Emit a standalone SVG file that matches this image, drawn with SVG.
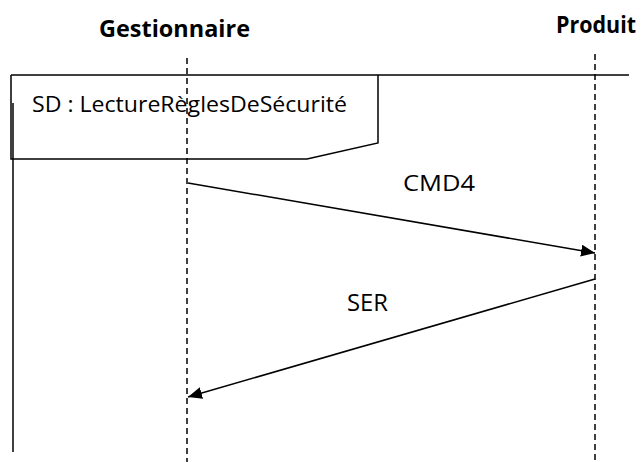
<svg xmlns="http://www.w3.org/2000/svg" width="644" height="462" viewBox="0 0 644 462">
<style>
.t{font-family:"Open Sans","Liberation Sans",sans-serif;fill:#000}
.h{font-family:"Open Sans","Liberation Sans",sans-serif;font-weight:bold;font-size:24px;fill:#000}
.life{stroke:#000;stroke-width:1.5;stroke-dasharray:6,4;fill:none}
.ln{stroke:#000;stroke-width:1.5;fill:none}
</style>
<defs>
<marker id="ah" markerWidth="14" markerHeight="12" refX="14" refY="6" orient="auto" markerUnits="userSpaceOnUse">
<path d="M0,0 L14,6 L0,12 Z" fill="#000"/>
</marker>
</defs>
<g id="frame">
<path class="ln" d="M11,75 H629"/>
<path class="ln" d="M11,75 V159 H307 L378,143 V75"/>
<path class="ln" d="M13,103 V452"/>
<text class="t" x="32" y="112" font-size="21" textLength="315" lengthAdjust="spacingAndGlyphs">SD : LectureRèglesDeSécurité</text>
</g>
<g id="gestionnaire">
<text class="h" x="99" y="37" textLength="151" lengthAdjust="spacingAndGlyphs">Gestionnaire</text>
<path class="life" d="M187,58 V462"/>
</g>
<g id="produit">
<text class="h" x="556" y="33" textLength="80" lengthAdjust="spacingAndGlyphs">Produit</text>
<path class="life" d="M595,54 V462"/>
</g>
<g id="connectors">
<path class="ln" d="M188,183 L595,253" marker-end="url(#ah)"/>
<text class="t" x="403" y="191" font-size="22" textLength="72" lengthAdjust="spacingAndGlyphs">CMD4</text>
<path class="ln" d="M595,279 L188,397" marker-end="url(#ah)"/>
<text class="t" x="347" y="311" font-size="23" textLength="41" lengthAdjust="spacingAndGlyphs">SER</text>
</g>
</svg>
